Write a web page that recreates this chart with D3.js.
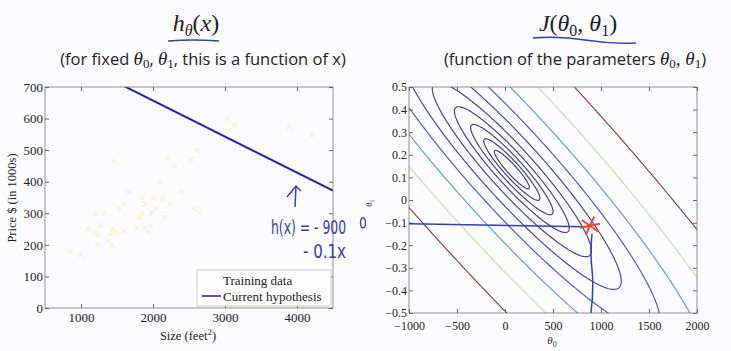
<!DOCTYPE html>
<html>
<head>
<meta charset="utf-8">
<script src="https://cdn.jsdelivr.net/npm/d3@7"></script>
<style>
    body { margin: 0; background: #fcfcfe; }
    svg { display: block; }
    .tick text { font-family: "Liberation Serif", serif; font-size: 13px; fill: #222; }
    .right .tick text { font-size: 12px; }
    .tick line { stroke: #666; }
</style>
</head>
<body>
<svg id="chart" width="731" height="351"></svg>
<script>
// Training data (size in feet^2, price in $1000s)
const sizes = [2104, 1600, 2400, 1416, 3000, 1985, 1534, 1427, 1380, 1494, 1940, 2000, 1890, 4478, 1268, 2300,
    1320, 1236, 2609, 3031, 1767, 1888, 1604, 1962, 3890, 1100, 1458, 2526, 2200, 2637, 1839, 1000,
    2040, 3137, 1811, 1437, 1239, 2132, 4215, 2162, 1664, 2238, 2567, 1200, 852, 1852, 1203];
const prices = [399.9, 329.9, 369.0, 232.0, 539.9, 299.9, 314.9, 199.0, 212.0, 242.5, 240.0, 347.0, 330.0, 699.9, 259.9, 449.9,
    299.9, 199.9, 500.0, 599.0, 252.9, 255.0, 242.9, 259.9, 573.9, 249.9, 464.5, 469.0, 475.0, 299.9, 349.9, 169.9,
    314.9, 579.9, 285.9, 249.9, 229.9, 345.0, 549.0, 287.0, 368.5, 329.9, 314.0, 299.0, 179.9, 299.9, 239.5];

const sizeTicks = [1000, 2000, 3000, 4000];
const priceTicks = [0, 100, 200, 300, 400, 500, 600, 700];
const theta0Ticks = [-1000, -500, 0, 500, 1000, 1500, 2000];
const theta1Ticks = [-0.5, -0.4, -0.3, -0.2, -0.1, 0, 0.1, 0.2, 0.3, 0.4, 0.5];

// contour levels of J
const costLevels = [4300, 7800, 14400, 26000, 48000, 89000, 162000, 298000, 546000, 1000000];

// current hypothesis (the red cross)
const theta0 = 885;
const theta1 = -0.114;
// pen line drawn from the cross to the theta1 axis
const penTheta1 = [-0.105, -0.118];

const legendLabels = ["Training data", "Current hypothesis"];

const svg = d3.select('#chart');
const serif = '"Liberation Serif", serif';
const penColor = '#2f40bd';

// ---------- titles ----------
function mathTitle(x, y, parts) {
    const t = svg.append('text')
        .attr('x', x).attr('y', y)
        .attr('text-anchor', 'middle')
        .attr('font-family', serif)
        .attr('font-size', 24)
        .attr('fill', '#222');
    parts.forEach(p => {
        t.append('tspan')
            .attr('font-style', p.it ? 'italic' : 'normal')
            .attr('font-size', p.sub ? 16 : null)
            .attr('dy', p.dy || 0)
            .text(p.s);
    });
}
mathTitle(196, 31, [{s: 'h', it: true}, {s: 'θ', it: true, sub: true, dy: 5}, {s: '(', dy: -5}, {s: 'x', it: true}, {s: ')'}]);
mathTitle(578, 31, [{s: 'J', it: true}, {s: '('}, {s: 'θ', it: true}, {s: '0', sub: true, dy: 5},
    {s: ', ', dy: -5}, {s: 'θ', it: true}, {s: '1', sub: true, dy: 5}, {s: ')', dy: -5}]);

function subTitle(x, y, parts) {
    const t = svg.append('text')
        .attr('x', x).attr('y', y)
        .attr('text-anchor', 'middle')
        .attr('font-family', '"Open Sans", sans-serif')
        .attr('font-size', 16.5)
        .attr('fill', '#222');
    parts.forEach(p => {
        const s = t.append('tspan').attr('dy', p.dy || 0).text(p.s);
        if (p.math) s.attr('font-family', serif).attr('font-style', p.sub ? 'normal' : 'italic')
            .attr('font-size', p.sub ? 13 : 19);
    });
}
subTitle(203, 65, [{s: '(for fixed '}, {s: 'θ', math: true}, {s: '0', math: true, sub: true, dy: 3},
    {s: ', ', dy: -3}, {s: 'θ', math: true}, {s: '1', math: true, sub: true, dy: 3}, {s: ', this is a function of x)', dy: -3}]);
subTitle(575, 65, [{s: '(function of the parameters  '}, {s: 'θ', math: true}, {s: '0', math: true, sub: true, dy: 3},
    {s: ', ', math: true, dy: -3}, {s: 'θ', math: true}, {s: '1', math: true, sub: true, dy: 3}, {s: ')', dy: -3}]);

// pen underlines
svg.append('path').attr('d', 'M168,41 Q194,39 219,41')
    .attr('fill', 'none').attr('stroke', penColor).attr('stroke-width', 1.5);
svg.append('path').attr('d', 'M533,38 Q560,36 585,40 T636,43')
    .attr('fill', 'none').attr('stroke', penColor).attr('stroke-width', 1.5);

// ---------- axes helper ----------
function drawAxes(g, x, y, xTicks, yTicks, xFmt, yFmt, pad) {
    const [x0, x1] = x.range();
    const [y0, y1] = y.range();
    g.append('rect')
        .attr('x', x0).attr('y', y1)
        .attr('width', x1 - x0).attr('height', y0 - y1)
        .attr('fill', 'none').attr('stroke', '#777').attr('stroke-width', 0.8);
    const ax = g.append('g').attr('transform', `translate(0,${y0})`)
        .call(d3.axisBottom(x).tickValues(xTicks).tickFormat(xFmt).tickSizeInner(-4).tickSizeOuter(0).tickPadding(pad));
    const axT = g.append('g').attr('transform', `translate(0,${y1})`)
        .call(d3.axisTop(x).tickValues(xTicks).tickFormat('').tickSizeInner(-4).tickSizeOuter(0));
    const ay = g.append('g').attr('transform', `translate(${x0},0)`)
        .call(d3.axisLeft(y).tickValues(yTicks).tickFormat(yFmt).tickSizeInner(-4).tickSizeOuter(0).tickPadding(2));
    const ayR = g.append('g').attr('transform', `translate(${x1},0)`)
        .call(d3.axisRight(y).tickValues(yTicks).tickFormat('').tickSizeInner(-4).tickSizeOuter(0));
    [ax, axT, ay, ayR].forEach(a => a.select('.domain').remove());
}

// ---------- left panel: data + hypothesis ----------
const xL = d3.scaleLinear().domain([500, 4500]).range([45, 333]);
const yL = d3.scaleLinear().domain([0, 700]).range([308, 87]);
const left = svg.append('g');

svg.append('clipPath').attr('id', 'clipL').append('rect')
    .attr('x', 45).attr('y', 87).attr('width', 288).attr('height', 221);

left.append('g').selectAll('path')
    .data(sizes.map((s, i) => [s, prices[i]]))
    .join('path')
    .attr('d', d => `M${xL(d[0]) - 2.5},${yL(d[1]) - 2.5}l5,5m0,-5l-5,5`)
    .attr('stroke', (d, i) => i % 9 === 4 ? '#f5d0dc' : '#f3eea8')
    .attr('stroke-width', 0.8)
    .attr('fill', 'none');

left.append('line')
    .attr('clip-path', 'url(#clipL)')
    .attr('x1', xL(500)).attr('y1', yL(theta0 + theta1 * 500))
    .attr('x2', xL(4500)).attr('y2', yL(theta0 + theta1 * 4500))
    .attr('stroke', '#2222a8').attr('stroke-width', 2);

drawAxes(left, xL, yL, sizeTicks, priceTicks, d3.format('d'), d3.format('d'), 5);

left.append('text')
    .attr('transform', 'translate(16,198) rotate(-90)')
    .attr('text-anchor', 'middle')
    .attr('font-family', serif).attr('font-size', 12.5).attr('fill', '#222')
    .text('Price $ (in 1000s)');
const xlab = left.append('text')
    .attr('x', 188).attr('y', 340)
    .attr('text-anchor', 'middle')
    .attr('font-family', serif).attr('font-size', 12.5).attr('fill', '#222');
xlab.append('tspan').text('Size (feet');
xlab.append('tspan').attr('font-size', 9).attr('dy', -5).text('2');
xlab.append('tspan').attr('dy', 5).text(')');

// legend
const lg = left.append('g');
lg.append('rect').attr('x', 197).attr('y', 270).attr('width', 134).attr('height', 36)
    .attr('fill', '#fdfdff').attr('stroke', '#c4c4b0').attr('stroke-width', 0.8);
lg.append('line').attr('x1', 202).attr('x2', 221).attr('y1', 296).attr('y2', 296)
    .attr('stroke', '#2222a8').attr('stroke-width', 1.5);
lg.selectAll('text.lab').data(legendLabels).join('text')
    .attr('class', 'lab')
    .attr('x', 223).attr('y', (d, i) => 285 + i * 16)
    .attr('font-family', serif).attr('font-size', 13).attr('fill', '#222')
    .text(d => d);

// pen annotation
left.append('path').attr('d', 'M295,207 L296,186 M287,197 L296,186 L301,191')
    .attr('fill', 'none').attr('stroke', penColor).attr('stroke-width', 1.5);
left.append('text').attr('x', 271).attr('y', 234)
    .attr('font-family', '"DejaVu Sans", sans-serif').attr('font-size', 20)
    .attr('textLength', 75).attr('lengthAdjust', 'spacingAndGlyphs')
    .attr('fill', penColor).text('h(x) = - 900');
left.append('text').attr('x', 303).attr('y', 258)
    .attr('font-family', '"DejaVu Sans", sans-serif').attr('font-size', 20)
    .attr('textLength', 43).attr('lengthAdjust', 'spacingAndGlyphs')
    .attr('fill', penColor).text('- 0.1x');

// ---------- right panel: contours of J ----------
const xR = d3.scaleLinear().domain([-1000, 2000]).range([409, 697]);
const yR = d3.scaleLinear().domain([-0.5, 0.5]).range([313, 87]);
const right = svg.append('g').attr('class', 'right');

svg.append('clipPath').attr('id', 'clipR').append('rect')
    .attr('x', 409).attr('y', 87).attr('width', 288).attr('height', 226);

const m = sizes.length;
function cost(t0, t1) {
    let s = 0;
    for (let i = 0; i < m; i++) {
        const e = t0 + t1 * sizes[i] - prices[i];
        s += e * e;
    }
    return s / (2 * m);
}

const t0Ext = [-1100, 2100], t1Ext = [-0.55, 0.55];
const nx = 321, ny = 221;
const s0 = (t0Ext[1] - t0Ext[0]) / (nx - 1), s1 = (t1Ext[1] - t1Ext[0]) / (ny - 1);
const grid = new Array(nx * ny);
for (let j = 0; j < ny; j++) {
    for (let i = 0; i < nx; i++) {
        grid[j * nx + i] = cost(t0Ext[0] + i * s0, t1Ext[0] + j * s1);
    }
}
const contours = d3.contours().size([nx, ny]).thresholds(costLevels)(grid);

const proj = d3.geoTransform({
    point(x, y) {
        this.stream.point(xR(t0Ext[0] + (x - 0.5) * s0), yR(t1Ext[0] + (y - 0.5) * s1));
    }
});
const jet = d3.scaleLinear()
    .domain([0, 0.125, 0.375, 0.625, 0.875, 1])
    .range(['#22226e', '#2a2ad0', '#30d0e0', '#eef070', '#ff0000', '#7a2a10']);
const lvl = d3.scaleLinear().domain(d3.extent(costLevels)).range([0, 1]);

right.append('g').attr('clip-path', 'url(#clipR)')
    .selectAll('path')
    .data(contours)
    .join('path')
    .attr('d', d3.geoPath(proj))
    .attr('fill', 'none')
    .attr('stroke', d => jet(lvl(d.value)))
    .attr('stroke-opacity', 0.85)
    .attr('stroke-width', 1.2);

drawAxes(right, xR, yR, theta0Ticks, theta1Ticks, d3.format('d'), d => d === 0 ? '0' : d3.format('.1f')(d), 8);

// pen lines to the axes
right.append('line')
    .attr('x1', xR(-1000)).attr('y1', yR(penTheta1[0]))
    .attr('x2', xR(theta0 - 60)).attr('y2', yR(penTheta1[1]))
    .attr('stroke', penColor).attr('stroke-width', 1.5);
right.append('path')
    .attr('d', `M${xR(theta0) + 2},${yR(theta1) + 8} q-2,20 0,35 q2,20 -1,${yR(-0.5) - yR(theta1) - 43}`)
    .attr('fill', 'none').attr('stroke', penColor).attr('stroke-width', 1.5);
right.append('ellipse').attr('cx', 363).attr('cy', 223).attr('rx', 2.5).attr('ry', 5)
    .attr('fill', 'none').attr('stroke', penColor).attr('stroke-width', 1.3);

// red cross
const cx = xR(theta0), cy = yR(theta1);
right.append('g').selectAll('line')
    .data([-12, 35, 115])
    .join('line')
    .attr('x1', a => cx - 10 * Math.cos(a * Math.PI / 180))
    .attr('y1', a => cy - 10 * Math.sin(a * Math.PI / 180))
    .attr('x2', a => cx + 10 * Math.cos(a * Math.PI / 180))
    .attr('y2', a => cy + 10 * Math.sin(a * Math.PI / 180))
    .attr('stroke', '#ee4433').attr('stroke-width', 2);

// axis labels
const t0lab = right.append('text').attr('x', 552).attr('y', 344).attr('text-anchor', 'middle')
    .attr('font-family', serif).attr('font-size', 11).attr('fill', '#333');
t0lab.append('tspan').attr('font-style', 'italic').text('θ');
t0lab.append('tspan').attr('font-size', 8).attr('dy', 3).text('0');
const t1lab = right.append('text').attr('transform', 'translate(372,203) rotate(-90)').attr('text-anchor', 'middle')
    .attr('font-family', serif).attr('font-size', 9).attr('fill', '#333')
    .text('θ₁');
</script>
</body>
</html>
